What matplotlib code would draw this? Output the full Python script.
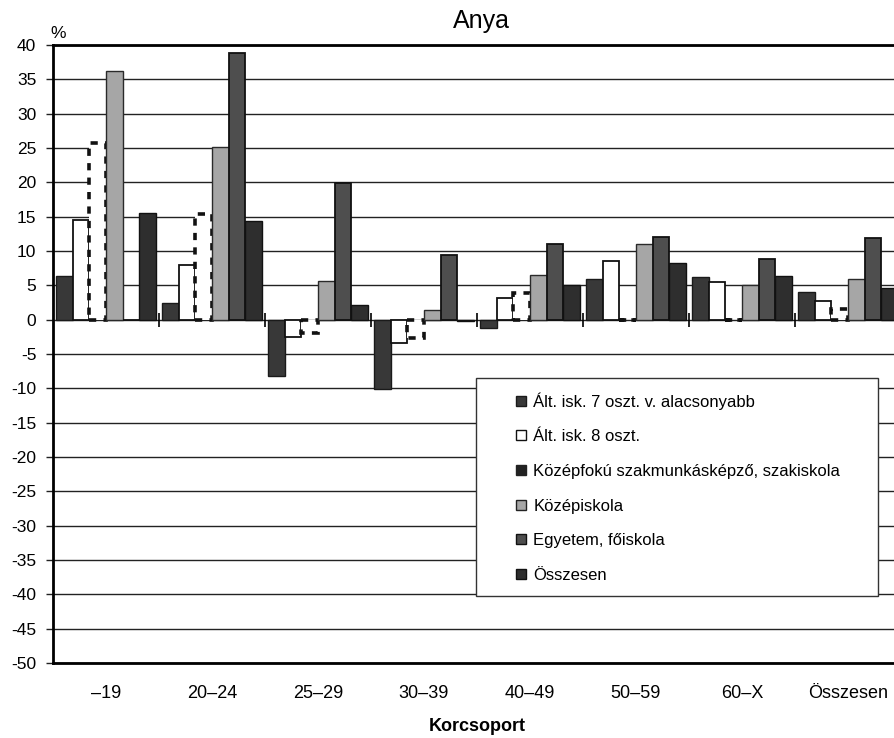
import numpy as np
import matplotlib.pyplot as plt
from matplotlib.lines import Line2D
from matplotlib.patches import Rectangle

plt.rcParams['font.family'] = ['Liberation Sans', 'DejaVu Sans']

korcsoport = ["–19", "20–24", "25–29", "30–39", "40–49", "50–59", "60–X", "Összesen"]

alt7 = [6.3, 2.5, -8.2, -10.1, -1.2, 5.9, 6.2, 4.1]
alt8 = [14.5, 8.0, -2.5, -3.4, 3.2, 8.6, 5.5, 2.7]
kozepfoku = [25.8, 15.4, -2.0, -2.6, 3.9, 0.0, 0.0, 1.6]
kozepiskola = [36.2, 25.2, 5.6, 1.4, 6.5, 11.0, 5.0, 5.9]
egyetem = [0.0, 38.9, 19.9, 9.4, 11.0, 12.0, 8.8, 11.9]
osszesen = [15.6, 14.4, 2.1, -0.2, 5.1, 8.2, 6.3, 4.6]

nevek = ["Ált. isk. 7 oszt. v. alacsonyabb", "Ált. isk. 8 oszt.",
         "Középfokú szakmunkásképző, szakiskola", "Középiskola",
         "Egyetem, főiskola", "Összesen"]

y_ticks = list(range(-50, 45, 5))

sorozatok = [alt7, alt8, kozepfoku, kozepiskola, egyetem, osszesen]
stilusok = [
    dict(facecolor="#383838", edgecolor="#1a1a1a", linewidth=1),
    dict(facecolor="white", edgecolor="#111111", linewidth=1.3),
    dict(facecolor="white", edgecolor="#111111", linewidth=2.6, linestyle=(0, (2, 2))),
    dict(facecolor="#a6a6a6", edgecolor="#2a2a2a", linewidth=1),
    dict(facecolor="#4e4e4e", edgecolor="#111111", linewidth=1.3),
    dict(facecolor="#2e2e2e", edgecolor="#111111", linewidth=1),
]
jelek = [
    dict(marker="s", markerfacecolor="#383838", markeredgecolor="#1a1a1a"),
    dict(marker="s", markerfacecolor="white", markeredgecolor="#111111"),
    dict(marker="s", markerfacecolor="#222222", markeredgecolor="#222222"),
    dict(marker="s", markerfacecolor="#a6a6a6", markeredgecolor="#222222"),
    dict(marker="s", markerfacecolor="#4e4e4e", markeredgecolor="#111111"),
    dict(marker="s", markerfacecolor="#2e2e2e", markeredgecolor="#111111"),
]

fig = plt.figure(figsize=(8.94, 7.38), dpi=100)
ax = fig.add_axes([0.0593, 0.1016, 0.9485, 0.8374])

x = np.arange(len(korcsoport))
w = 0.1575
for j, (ertekek, st) in enumerate(zip(sorozatok, stilusok)):
    ax.bar(x + (j - 2.5) * w, ertekek, width=w, zorder=3, **st)

ax.set_xlim(-0.5, len(korcsoport) - 0.5)
ax.set_ylim(-50, 40)
ax.set_yticks(y_ticks)
ax.set_yticklabels([str(v) for v in y_ticks])
ax.yaxis.grid(True, color="#222222", linewidth=1)
ax.set_axisbelow(True)
ax.tick_params(axis="y", length=5, width=1, pad=7, labelsize=12.5, color="#222222")

ax.set_xticks(x)
ax.set_xticklabels(korcsoport)
ax.tick_params(axis="x", length=0, pad=16, labelsize=13)

# kis osztasok a nulla vonalon a csoportok kozott
hatarok = x[:-1] + 0.5
ax.plot(hatarok, np.zeros(len(hatarok)), linestyle="none", marker="|",
        markersize=10, markeredgewidth=1.2, color="black", zorder=4)

for s in ["top", "bottom", "left"]:
    ax.spines[s].set_linewidth(2)
    ax.spines[s].set_color("black")
ax.spines["right"].set_visible(False)

ax.set_xlabel("Korcsoport", fontsize=13, fontweight="bold", labelpad=11)
fig.text(0.539, 0.971, "Anya", ha="center", va="center", fontsize=18)
fig.text(0.0565, 0.955, "%", ha="left", va="center", fontsize=12.5)

# jelmagyarazat
ax.add_patch(Rectangle((0.4988, 0.1084), 0.4741, 0.3528, transform=ax.transAxes,
                       facecolor="white", edgecolor="#333333", linewidth=1, zorder=5))
kezelok = [Line2D([], [], linestyle="none", markersize=6.5, **j) for j in jelek]
leg = ax.legend(kezelok, nevek, loc="upper left", bbox_to_anchor=(0.5448, 0.4385),
                frameon=False, fontsize=12, handlelength=0.75, handletextpad=0.35,
                borderpad=0, borderaxespad=0, labelspacing=1.18)
leg.set_zorder(6)

fig.savefig("out.png", dpi=100)
